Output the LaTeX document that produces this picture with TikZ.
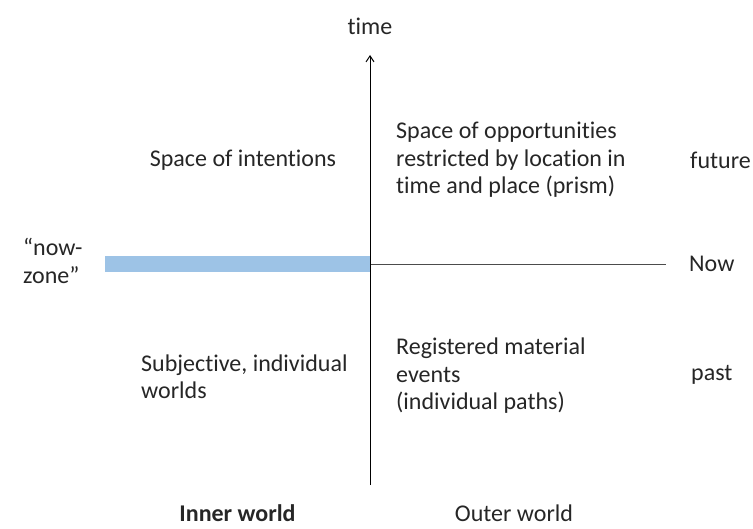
\documentclass[tikz,border=0pt]{standalone}
\usepackage{fontspec}
\setmainfont{Carlito}[Ligatures=NoCommon]
\usetikzlibrary{arrows.meta}
\definecolor{barblue}{HTML}{9DC3E6}
\begin{document}
\begin{tikzpicture}[x=1pt,y=-1pt,
  lbl/.style={font=\fontsize{24}{27.5}\selectfont, inner sep=0pt, align=left, text=black!85},
  axis/.style={line width=1pt, draw=black}]
\useasboundingbox (0,0) rectangle (753,529);
\coordinate (vtop) at (370,55);
\coordinate (vbot) at (370,485);
\coordinate (hleft) at (370,264);
\coordinate (hright) at (666,264);
\draw[fill=barblue, draw=none] (105,256) rectangle (371,272);
\draw[line width=0.8pt, draw=black!70] (hleft) -- (hright);
\draw[axis, -{Straight Barb[length=6pt,width=8pt]}] (vbot) -- (vtop);
\node[lbl] (time) at (370,26) {time};
\node[lbl] (intent) at (243,160) {Space of intentions};
\node[lbl, anchor=west] (opp) at (396,160) {Space of opportunities\\restricted by location in\\time and place (prism)};
\node[lbl, anchor=west] (future) at (690,160) {future};
\node[lbl, anchor=west] (nowzone) at (23,261) {“now-\\zone”};
\node[lbl, anchor=west] (now) at (689,264) {Now};
\node[lbl, anchor=west] (subj) at (141,377) {Subjective, individual\\worlds};
\node[lbl, anchor=west] (reg) at (396,376) {Registered material\\events\\(individual paths)};
\node[lbl, anchor=west] (past) at (691,375) {past};
\node[lbl, font=\fontsize{24}{27.5}\selectfont\bfseries, anchor=base] (inner) at (237.5,521) {Inner world};
\node[lbl, anchor=base] (outer) at (514,521) {Outer world};
\end{tikzpicture}
\end{document}
